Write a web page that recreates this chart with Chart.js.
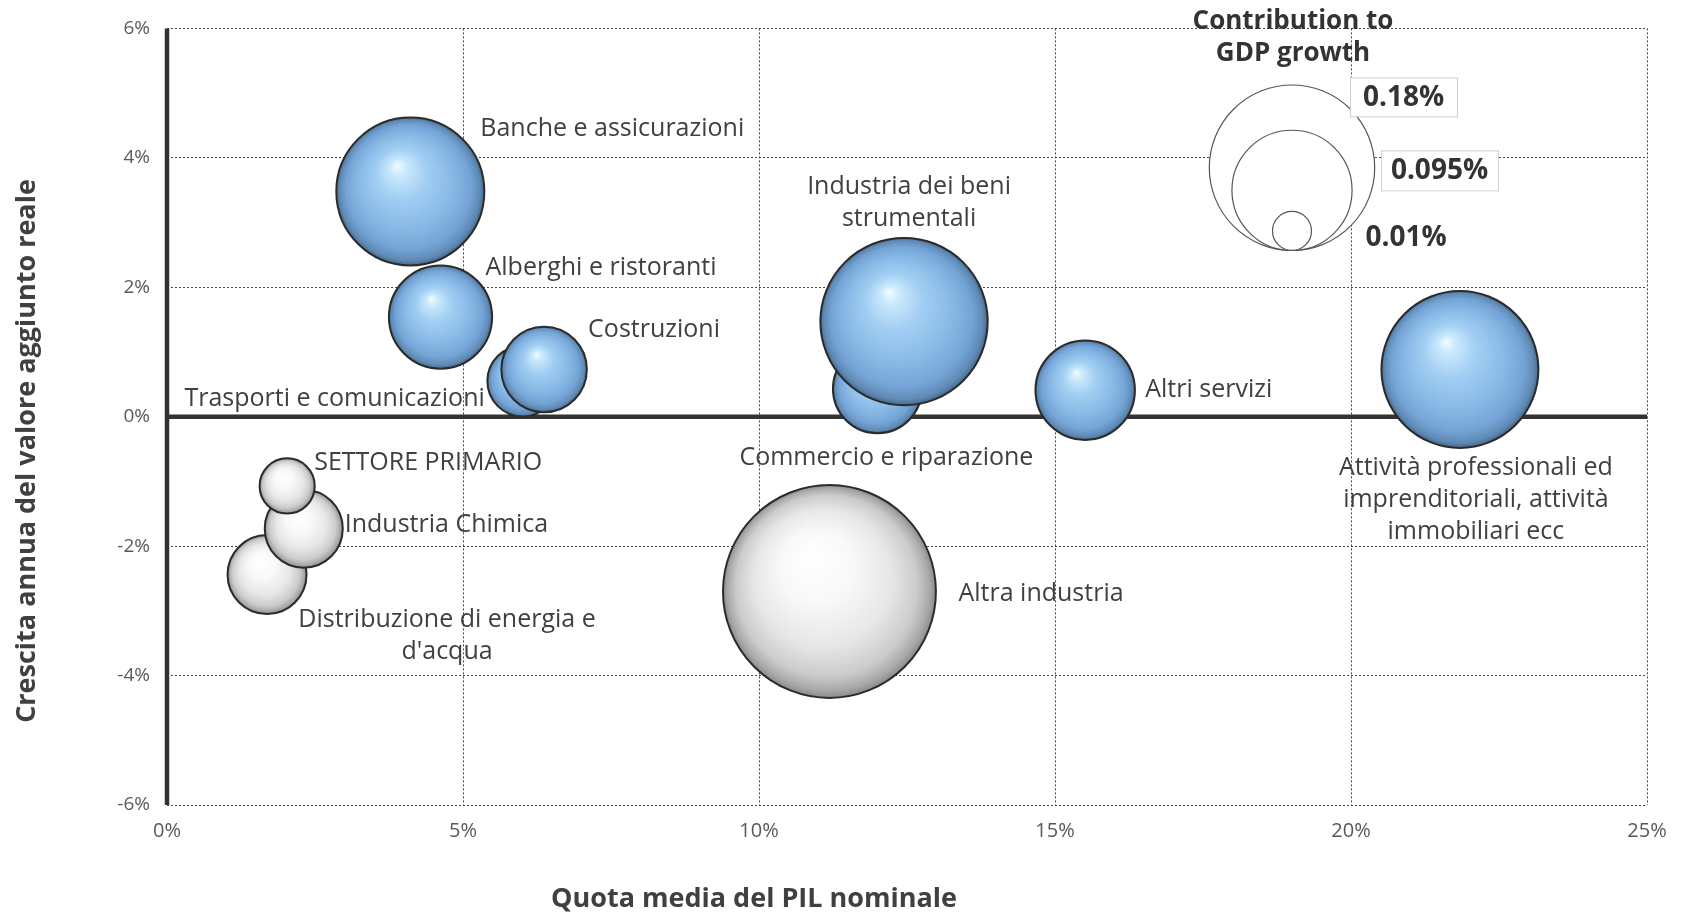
<!DOCTYPE html>
<html>
<head>
<meta charset="utf-8">
<script src="https://cdn.jsdelivr.net/npm/chart.js@4.4.0/dist/chart.umd.min.js"></script>
<style>
  body { margin: 0; background: #fff; }
  #wrap { width: 1682px; height: 914px; }
</style>
</head>
<body>
<div id="wrap"><canvas id="bubbleChart" width="1682" height="914"></canvas></div>
<script>
// settori, in ordine di disegno (quelli dietro prima)
const sectors = [
  'Distribuzione di energia e d\'acqua',
  'Industria Chimica',
  'SETTORE PRIMARIO',
  'Trasporti e comunicazioni',
  'Costruzioni',
  'Banche e assicurazioni',
  'Alberghi e ristoranti',
  'Commercio e riparazione',
  'Industria dei beni strumentali',
  'Altri servizi',
  'Attività professionali ed imprenditoriali, attività immobiliari ecc',
  'Altra industria'
];
const sectorLabels = [
  ['Distribuzione di energia e', 'd\'acqua'],
  ['Industria Chimica'],
  ['SETTORE PRIMARIO'],
  ['Trasporti e comunicazioni'],
  ['Costruzioni'],
  ['Banche e assicurazioni'],
  ['Alberghi e ristoranti'],
  ['Commercio e riparazione'],
  ['Industria dei beni', 'strumentali'],
  ['Altri servizi'],
  ['Attività professionali ed', 'imprenditoriali, attività', 'immobiliari ecc'],
  ['Altra industria']
];
// quota media del PIL nominale (%)
const pilShare = [1.69, 2.31, 2.03, 6.01, 6.37, 4.11, 4.62, 12.0, 12.45, 15.51, 21.84, 11.19];
// crescita annua del valore aggiunto reale (%)
const vaGrowth = [-2.44, -1.73, -1.07, 0.55, 0.73, 3.48, 1.54, 0.43, 1.47, 0.41, 0.73, -2.70];
// contributo alla crescita del PIL (%)
const gdpContribution = [-0.041, -0.040, -0.020, 0.033, 0.048, 0.144, 0.070, 0.052, 0.184, 0.065, 0.162, -0.298];

const legendSizes = [0.18, 0.095, 0.01];
const legendLabels = ['0.18%', '0.095%', '0.01%'];

// posizione delle etichette rispetto al centro della bolla (px)
const labelPlacement = [
  { align: 'center', dx: 180, dy: 45 },
  { align: 'left', dx: 41, dy: -4 },
  { align: 'left', dx: 27, dy: -23 },
  { align: 'right', dx: -38, dy: 18 },
  { align: 'left', dx: 44, dy: -40 },
  { align: 'left', dx: 70, dy: -63 },
  { align: 'left', dx: 45, dy: -49 },
  { align: 'center', dx: 9, dy: 69 },
  { align: 'center', dx: 5, dy: -135 },
  { align: 'left', dx: 60, dy: 0 },
  { align: 'center', dx: 16, dy: 98 },
  { align: 'left', dx: 129, dy: 2 }
];

const FONT = '"Open Sans", "DejaVu Sans", sans-serif';
const blueStops = [[0, '#f2fcff'], [0.12, '#c8e8fc'], [0.35, '#a0cdf2'], [0.62, '#89bae6'], [0.84, '#74a4d6'], [0.95, '#5f8ab5'], [1, '#47698c']];
const greyStops = [[0, '#ffffff'], [0.35, '#f8f8f8'], [0.65, '#e6e6e6'], [0.85, '#cbcbcb'], [0.95, '#a8a8a8'], [1, '#8a8a8a']];

// raggio proporzionale alla radice del contributo (area ~ valore)
const bubbleRadius = (chart, v) => {
  const h = chart.chartArea ? chart.chartArea.height : 777;
  return h * 0.251 * Math.sqrt(Math.abs(v));
};

function sphereFill(c) {
  const chart = c.chart;
  const i = c.dataIndex;
  if (c.type !== 'data' || !chart.chartArea) return '#9ccbf1';
  const cx = chart.scales.x.getPixelForValue(pilShare[i]);
  const cy = chart.scales.y.getPixelForValue(vaGrowth[i]);
  const r = bubbleRadius(chart, gdpContribution[i]);
  const g = chart.ctx.createRadialGradient(cx - r * 0.18, cy - r * 0.36, 0, cx, cy, r);
  const stops = vaGrowth[i] >= 0 ? blueStops : greyStops;
  stops.forEach(([o, col]) => g.addColorStop(o, col));
  return g;
}

const axisLines = {
  id: 'axisLines',
  beforeDatasetsDraw(chart) {
    const { ctx, chartArea: a, scales: { x, y } } = chart;
    const x0 = x.getPixelForValue(0);
    const y0 = y.getPixelForValue(0);
    ctx.save();
    ctx.strokeStyle = '#333';
    ctx.lineWidth = 4.5;
    ctx.beginPath();
    ctx.moveTo(x0, a.top);
    ctx.lineTo(x0, a.bottom);
    ctx.moveTo(a.left, y0);
    ctx.lineTo(a.right, y0);
    ctx.stroke();
    ctx.restore();
  }
};

const sectorLabelPlugin = {
  id: 'sectorLabels',
  afterDatasetsDraw(chart) {
    const { ctx, scales: { x, y } } = chart;
    ctx.save();
    ctx.font = '25px ' + FONT;
    ctx.fillStyle = '#404040';
    ctx.textBaseline = 'middle';
    sectorLabels.forEach((lines, i) => {
      const p = labelPlacement[i];
      const px = x.getPixelForValue(pilShare[i]) + p.dx;
      const py = y.getPixelForValue(vaGrowth[i]) + p.dy;
      ctx.textAlign = p.align;
      lines.forEach((t, k) => ctx.fillText(t, px, py + k * 32));
    });
    ctx.restore();
  }
};

const sizeLegend = {
  id: 'sizeLegend',
  afterDatasetsDraw(chart) {
    const { ctx, chartArea: a } = chart;
    const cx = a.right - 355;
    const bottom = a.top + 222;
    ctx.save();
    // titolo
    ctx.font = 'bold 26px ' + FONT;
    ctx.fillStyle = '#333';
    ctx.textAlign = 'center';
    ctx.textBaseline = 'middle';
    ctx.fillText('Contribution to', cx + 1, a.top - 7);
    ctx.fillText('GDP growth', cx + 1, a.top + 25);
    // cerchi
    ctx.lineWidth = 1.2;
    ctx.strokeStyle = '#555';
    ctx.fillStyle = '#fff';
    legendSizes.forEach(v => {
      const r = bubbleRadius(chart, v);
      ctx.beginPath();
      ctx.arc(cx, bottom - r, r, 0, Math.PI * 2);
      ctx.fill();
      ctx.stroke();
    });
    // etichette
    const boxes = [
      { x: cx + 58, y: a.top + 49, w: 107, h: 39, box: true },
      { x: cx + 89, y: a.top + 122, w: 117, h: 40, box: true },
      { x: cx + 70, y: a.top + 190, w: 88, h: 38, box: false }
    ];
    ctx.font = 'bold 28px ' + FONT;
    legendLabels.forEach((t, i) => {
      const b = boxes[i];
      if (b.box) {
        ctx.fillStyle = '#fff';
        ctx.fillRect(b.x, b.y, b.w, b.h);
        ctx.strokeStyle = '#d0d0d0';
        ctx.lineWidth = 1;
        ctx.strokeRect(b.x + 0.5, b.y + 0.5, b.w, b.h);
      }
      ctx.fillStyle = '#333';
      ctx.fillText(t, b.x + b.w / 2, b.y + b.h / 2 + 1);
    });
    ctx.restore();
  }
};

const axisTitles = {
  id: 'axisTitles',
  afterDraw(chart) {
    const { ctx } = chart;
    ctx.save();
    ctx.font = 'bold 27px ' + FONT;
    ctx.fillStyle = '#404040';
    ctx.textAlign = 'center';
    ctx.textBaseline = 'middle';
    ctx.fillText('Quota media del PIL nominale', 754, 899);
    ctx.translate(27, 451);
    ctx.rotate(-Math.PI / 2);
    ctx.fillText('Crescita annua del valore aggiunto reale', 0, 0);
    ctx.restore();
  }
};

const ctx = document.getElementById('bubbleChart').getContext('2d');
const chart = new Chart(ctx, {
  type: 'bubble',
  data: {
    labels: sectors,
    datasets: [{
      label: 'Settori',
      data: pilShare.map((v, i) => ({ x: v, y: vaGrowth[i] })),
      radius: (c) => bubbleRadius(c.chart, gdpContribution[c.dataIndex] || 0),
      backgroundColor: sphereFill,
      borderColor: '#2b2b2b',
      borderWidth: 2,
      clip: false
    }]
  },
  options: {
    responsive: false,
    animation: false,
    events: [],
    layout: { autoPadding: false, padding: { top: 28, right: 35, left: 0, bottom: 0 } },
    plugins: {
      legend: { display: false },
      tooltip: { enabled: false }
    },
    scales: {
      x: {
        type: 'linear',
        min: 0,
        max: 25,
        afterFit: (s) => { s.height = 109; },
        ticks: {
          stepSize: 5,
          padding: 14,
          color: '#595959',
          font: { family: FONT, size: 20 },
          callback: (v) => v + '%'
        },
        grid: { color: '#444', lineWidth: 1, drawTicks: false },
        border: { display: false, dash: [2, 2] }
      },
      y: {
        type: 'linear',
        min: -6,
        max: 6,
        afterFit: (s) => { s.width = 167; },
        ticks: {
          stepSize: 2,
          padding: 17,
          color: '#595959',
          font: { family: FONT, size: 19 },
          callback: (v) => v + '%'
        },
        grid: { color: '#444', lineWidth: 1, drawTicks: false },
        border: { display: false, dash: [2, 2] }
      }
    }
  },
  plugins: [axisLines, sectorLabelPlugin, sizeLegend, axisTitles]
});
</script>
</body>
</html>
